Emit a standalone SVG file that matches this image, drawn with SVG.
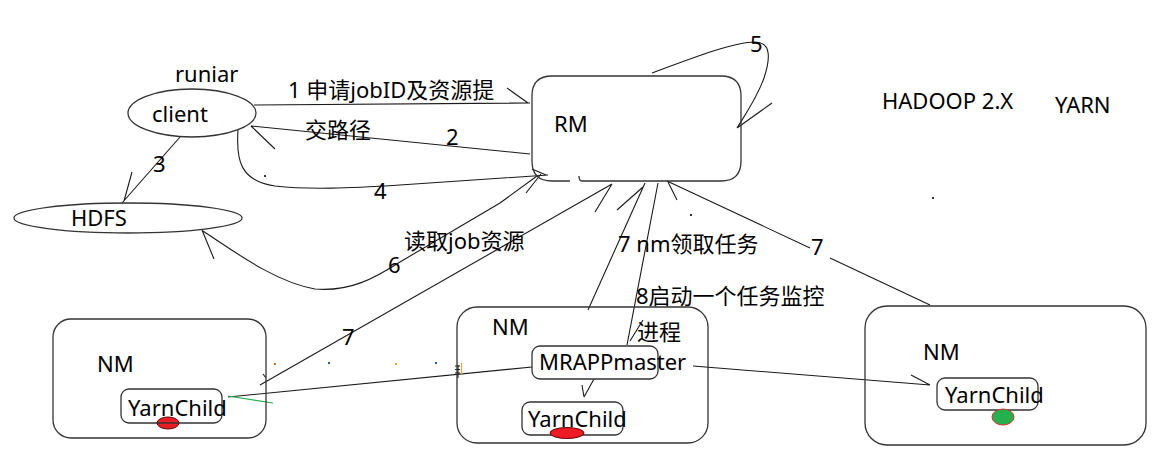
<svg xmlns="http://www.w3.org/2000/svg" width="1162" height="462" viewBox="0 0 1162 462">
<style>
.t{font-family:"Noto Sans","Noto Sans CJK SC",sans-serif;font-size:22px;fill:#000}
.box{fill:none;stroke:#333;stroke-width:1.3}
.ln{fill:none;stroke:#1a1a1a;stroke-width:1.1}
.dot{stroke:none}
</style>
<rect width="1162" height="462" fill="#fff"/>
<g id="connectors">
  <!-- 1 -->
  <path class="ln" d="M254,105 L530,103 M507,88 L528,103"/>
  <!-- 2 -->
  <path class="ln" d="M530,154 L251,126 M251,126 L275,149"/>
  <!-- 3 -->
  <path class="ln" d="M180,137 L122,203 M132,172 L124,201"/>
  <!-- 4 -->
  <path class="ln" d="M238,130 C236,160 240,181 275,186 C310,190 350,188 400,185 L548,175 M532,169 L546,175"/>
  <!-- 5 -->
  <path class="ln" d="M652,73 C700,55 735,42 755,42 C772,42 770,60 764,78 C757,98 745,115 737,128 M737,128 L772,103"/>
  <!-- 6 -->
  <path class="ln" d="M203,231 C235,252 275,282 315,289 C350,292 375,278 400,262 L500,203 L537,176 M526,193 L541,174 M202,230 L214,259"/>
  <!-- 7 NM1 -->
  <path class="ln" d="M260,385 L612,184 M595,212 L612,184 M263,374 L266,378"/>
  <!-- 7 NM2 -->
  <path class="ln" d="M588,310 L645,183 M617,210 L643,187"/>
  <!-- 8 -->
  <path class="ln" d="M627,345 L658,183 M643,320 L630,341"/>
  <!-- 7 NM3 -->
  <path class="ln" d="M667,181 L810,248 M830,258 L930,305 M677,200 L668,182"/>
  <!-- NM1 YarnChild to MRAPPmaster -->
  <path class="ln" d="M228,397 L532,367"/>
  <path d="M228,396 L273,403" fill="none" stroke="#22b14c" stroke-width="1.2"/>
  <!-- MRAPPmaster to NM3 YarnChild -->
  <path class="ln" d="M693,366 L930,385 M911,375 L930,385"/>
  <!-- MRAPPmaster to YarnChild2 -->
  <path class="ln" d="M594,379 L584,397 M582,385 L584,397"/>
  <!-- small marks -->
  <path d="M461.5,363 L461.5,374" stroke="#f0a040" stroke-width="1.2" fill="none"/>
  <path class="ln" d="M455,366 H460 M455,369.5 H460 M455,373 H460 M458,365 V378"/>
  <rect class="dot" x="274" y="363" width="2" height="2" fill="#c07020"/>
  <rect class="dot" x="328" y="362" width="2" height="2" fill="#3050a0"/>
  <rect class="dot" x="395" y="363" width="2" height="2" fill="#e0a040"/>
  <rect class="dot" x="435" y="362" width="2" height="2" fill="#3050a0"/>
  <rect class="dot" x="264" y="175" width="2" height="2" fill="#333"/>
  <rect class="dot" x="690" y="214" width="2" height="2" fill="#333"/>
  <rect class="dot" x="932" y="197" width="2" height="2" fill="#333"/>
  <!-- labels -->
  <text class="t" x="288" y="98">1 申请jobID及资源提</text>
  <text class="t" x="305" y="138">交路径</text>
  <text class="t" x="446" y="145">2</text>
  <text class="t" x="153" y="172">3</text>
  <text class="t" x="374" y="199">4</text>
  <text class="t" x="750" y="52">5</text>
  <text class="t" x="388" y="273">6</text>
  <text class="t" x="404" y="249">读取job资源</text>
  <text class="t" x="342" y="345">7</text>
  <text class="t" x="618" y="252">7 nm领取任务</text>
  <text class="t" x="811" y="255">7</text>
  <text class="t" x="636" y="304">8启动一个任务监控</text>
  <text class="t" x="637" y="340">进程</text>
</g>
<g id="title">
  <text class="t" x="882" y="109">HADOOP 2.X</text>
  <text class="t" x="1055" y="113">YARN</text>
</g>
<g id="client">
  <text class="t" x="175" y="82">runiar</text>
  <ellipse class="box" cx="192" cy="113" rx="64" ry="24"/>
  <text class="t" x="152" y="122">client</text>
</g>
<g id="hdfs">
  <ellipse class="box" cx="128" cy="218" rx="114" ry="15"/>
  <text class="t" x="71" y="226">HDFS</text>
</g>
<g id="rm">
  <path class="box" d="M570,181 H552 Q532,181 532,161 V96 Q532,76 552,76 H721 Q741,76 741,96 V161 Q741,181 721,181 H582 Q579,181 579,176"/>
  <text class="t" x="554" y="132">RM</text>
</g>
<g id="nm1">
  <rect class="box" x="53" y="319" width="213" height="119" rx="18"/>
  <text class="t" x="97" y="372">NM</text>
  <g id="yarnchild1">
    <ellipse cx="168" cy="423" rx="11" ry="6" fill="#ed1c24" stroke="#600" stroke-width="1"/>
    <rect class="box" x="121" y="389" width="101" height="34" rx="8"/>
    <text class="t" x="128" y="416">YarnChild</text>
  </g>
</g>
<g id="nm2">
  <rect class="box" x="457" y="307" width="251" height="136" rx="20"/>
  <text class="t" x="492" y="335">NM</text>
  <g id="mrappmaster">
    <rect class="box" x="532" y="346" width="126" height="33" rx="8"/>
    <text class="t" x="539" y="370">MRAPPmaster</text>
  </g>
  <g id="yarnchild2">
    <rect class="box" x="522" y="402" width="101" height="33" rx="8"/>
    <ellipse cx="567" cy="433" rx="17" ry="5.5" fill="#ed1c24" stroke="#600" stroke-width="1"/>
    <text class="t" x="528" y="427">YarnChild</text>
  </g>
</g>
<g id="nm3">
  <rect class="box" x="865" y="306" width="281" height="139" rx="22"/>
  <text class="t" x="923" y="360">NM</text>
  <g id="yarnchild3">
    <rect class="box" x="937" y="378" width="101" height="32" rx="8"/>
    <ellipse cx="1003" cy="417" rx="11" ry="8" fill="#22b14c" stroke="#e03030" stroke-width="1"/>
    <text class="t" x="945" y="403">YarnChild</text>
  </g>
</g>
</svg>
